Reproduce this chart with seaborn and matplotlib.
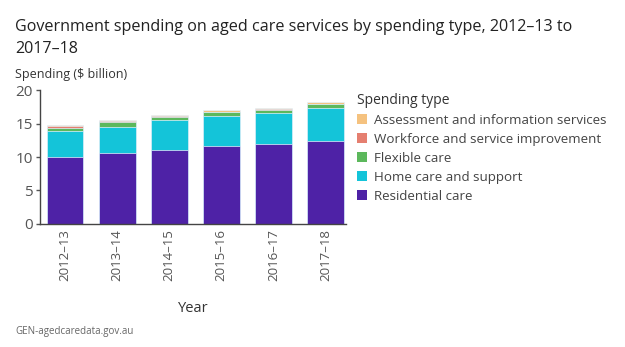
import matplotlib
matplotlib.use("Agg")
import matplotlib.pyplot as plt
import seaborn as sns
import numpy as np
import pandas as pd

years = ["2012–13", "2013–14", "2014–15", "2015–16", "2016–17", "2017–18"]
residential = [10.0, 10.6, 11.1, 11.7, 12.0, 12.4]
home_care = [3.9, 3.9, 4.4, 4.4, 4.6, 5.0]
flexible = [0.5, 0.7, 0.5, 0.6, 0.5, 0.5]
workforce = [0.3, 0.2, 0.2, 0.1, 0.1, 0.1]
assessment = [0.1, 0.1, 0.1, 0.2, 0.1, 0.3]

series_names = ["Residential care", "Home care and support", "Flexible care",
                "Workforce and service improvement", "Assessment and information services"]
series_vals = [residential, home_care, flexible, workforce, assessment]
colors = ["#4e22a6", "#14c4d9", "#5cb85c", "#e57f70", "#f5c27f"]

sns.set_theme(style="white")
plt.rcParams["font.family"] = ["Open Sans", "DejaVu Sans"]

fig = plt.figure(figsize=(6.25, 3.47), dpi=100)
ax = fig.add_axes([0.064, 0.355, 0.49, 0.385])

cum = np.cumsum(np.array(series_vals), axis=0)
for i in range(len(series_names) - 1, -1, -1):
    df = pd.DataFrame({"Year": years, "v": cum[i]})
    sns.barplot(data=df, x="Year", y="v", color=colors[i], saturation=1,
                width=0.71, edgecolor="#e4f3ff", linewidth=0.5, ax=ax)

ax.set_ylim(0, 20)
ax.set_xlim(-0.48, 5.4)
ax.set_yticks([0, 5, 10, 15, 20])
ax.tick_params(axis="y", labelsize=11, colors="#555555", length=3, width=1,
               left=True, pad=2)
ax.tick_params(axis="x", labelsize=9.5, colors="#555555", length=0, pad=4,
               labelrotation=90)
ax.set_xticks(range(len(years)))
ax.set_xticklabels(years, rotation=90)
for s in ["top", "right"]:
    ax.spines[s].set_visible(False)
for s in ["left", "bottom"]:
    ax.spines[s].set_color("#444444")
    ax.spines[s].set_linewidth(1)
ax.set_ylabel("")
ax.set_xlabel("Year", fontsize=10.5, color="#333333", labelpad=14)

fig.text(0.024, 0.945, "Government spending on aged care services by spending type, 2012–13 to\n2017–18",
         fontsize=11.6, color="#222222", va="top", linespacing=1.5)
fig.text(0.024, 0.785, "Spending ($ billion)", fontsize=9, color="#333333", va="center")
fig.text(0.024, 0.045, "GEN-agedcaredata.gov.au", fontsize=7, color="#666666", va="center")

from matplotlib.patches import Patch
handles = [Patch(facecolor=colors[i], edgecolor="none") for i in range(4, -1, -1)]
labels = [series_names[i] for i in range(4, -1, -1)]
leg = fig.legend(handles, labels, title="Spending type", loc="upper left",
                 bbox_to_anchor=(0.562, 0.748), frameon=False, fontsize=9.6,
                 title_fontsize=10, handlelength=0.8, handleheight=0.8,
                 handletextpad=0.5, labelspacing=0.45, borderaxespad=0)
leg._legend_box.align = "left"
for t in leg.get_texts():
    t.set_color("#444444")
leg.get_title().set_color("#333333")

fig.savefig("out.png", dpi=100)
